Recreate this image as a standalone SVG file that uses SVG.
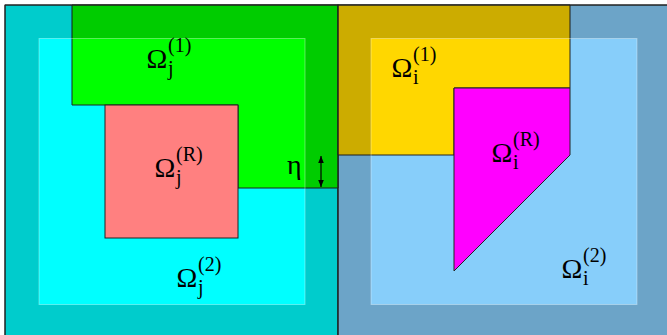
<svg xmlns="http://www.w3.org/2000/svg" width="667" height="335" viewBox="0 0 667 335">
<defs>
<marker id="ah" viewBox="0 0 10 10" refX="10" refY="5" markerWidth="7" markerHeight="7" orient="auto-start-reverse" markerUnits="userSpaceOnUse">
<path d="M0,1 L10,5 L0,9 Z" fill="#000"/>
</marker>
</defs>
<style>
.edge{stroke:#222;stroke-width:1}
.shade{fill:#000;fill-opacity:0.2;fill-rule:evenodd}
.lbl{font-family:"Liberation Serif","Times New Roman",serif;font-size:28px;fill:#000}
.sm{font-size:20px}
</style>
<rect width="667" height="335" fill="#fff"/>
<g id="domain-j">
<rect x="5" y="5" width="333" height="335" fill="#00FFFF" class="edge"/>
</g>
<g id="domain-i">
<rect x="338" y="5" width="334" height="335" fill="#87CEFA" class="edge"/>
</g>
<g id="omega-j-1">
<polygon points="72,5 338,5 338,188 238,188 238,105 72,105" fill="#00FF00" class="edge"/>
</g>
<g id="omega-j-R">
<rect x="105" y="105" width="133" height="133" fill="#FF8080" class="edge"/>
</g>
<g id="omega-i-1">
<polygon points="338,5 570,5 570,88 454,88 454,155 338,155" fill="#FFD700" class="edge"/>
</g>
<g id="omega-i-R">
<polygon points="454,88 570,88 570,155 454,271" fill="#FF00FF" class="edge"/>
</g>
<g id="overlap-shade">
<path class="shade" d="M5,5 H338 V340 H5 Z M39,38.5 V304.5 H305 V38.5 Z"/>
<path class="shade" d="M338,5 H672 V340 H338 Z M371,38.5 V304.5 H637 V38.5 Z"/>
<rect x="39" y="38.5" width="266" height="266" fill="none" stroke="#fff" stroke-opacity="0.35" stroke-width="1"/>
<rect x="371" y="38.5" width="266" height="266" fill="none" stroke="#fff" stroke-opacity="0.35" stroke-width="1"/>
<line x1="5" y1="5" x2="667" y2="5" class="edge"/>
<line x1="5" y1="5" x2="5" y2="335" class="edge"/>
<line x1="338" y1="5" x2="338" y2="335" class="edge"/>
</g>
<g id="connectors">
<line x1="321" y1="156" x2="321" y2="187" stroke="#000" stroke-width="1.2" marker-start="url(#ah)" marker-end="url(#ah)"/>
</g>
<g id="labels">
<text class="lbl" x="287" y="174">η</text>
<text class="lbl" x="146.5" y="68">Ω<tspan class="sm" x="168" y="75">j</tspan><tspan class="sm" x="168" y="52">(1)</tspan></text>
<text class="lbl" x="154.5" y="177">Ω<tspan class="sm" x="176" y="184">j</tspan><tspan class="sm" x="176" y="161">(R)</tspan></text>
<text class="lbl" x="176.5" y="287">Ω<tspan class="sm" x="198" y="294">j</tspan><tspan class="sm" x="198" y="271">(2)</tspan></text>
<text class="lbl" x="391.5" y="77">Ω<tspan class="sm" x="413" y="84">i</tspan><tspan class="sm" x="413" y="61">(1)</tspan></text>
<text class="lbl" x="491.5" y="162">Ω<tspan class="sm" x="513" y="169">i</tspan><tspan class="sm" x="513" y="146">(R)</tspan></text>
<text class="lbl" x="561.5" y="278">Ω<tspan class="sm" x="583" y="285">i</tspan><tspan class="sm" x="583" y="262">(2)</tspan></text>
</g>
</svg>
